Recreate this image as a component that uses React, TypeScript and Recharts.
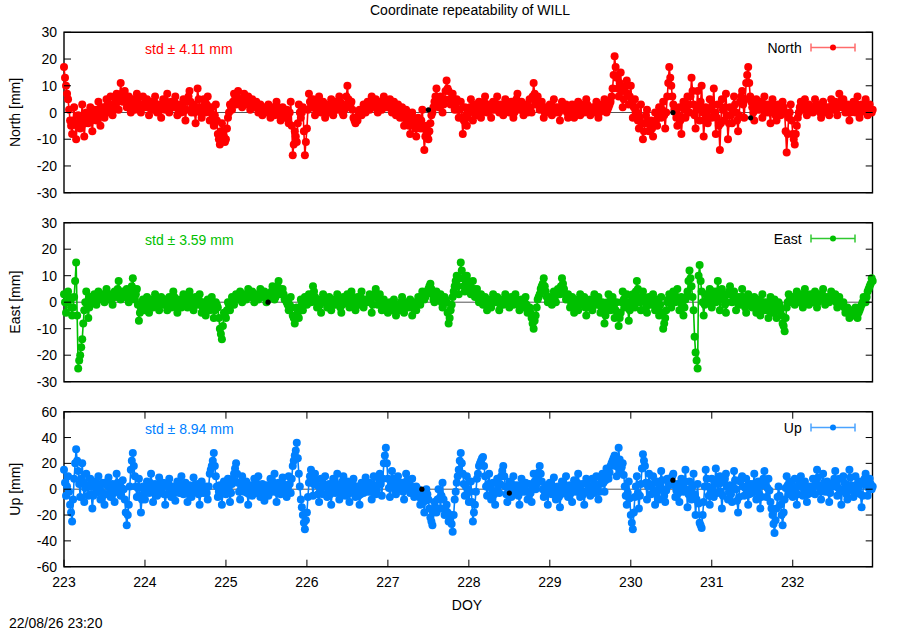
import React from 'react';
import {
  ComposedChart, Line, XAxis, YAxis, ReferenceLine, ReferenceArea, Legend,
} from 'recharts';

// samples every 0.025 day starting DOY 223.000; the *Mid arrays hold the samples in between
const DOY_START = 223;
const DOY_STEP = 0.025;
const DOY_MAX = 232.985;
const doyTicks = [223, 224, 225, 226, 227, 228, 229, 230, 231, 232];
const neTicks = [-30, -20, -10, 0, 10, 20, 30];
const upTicks = [-60, -40, -20, 0, 20, 40, 60];

const northMm = [
  17, 10, 5, -3, -8, 2, -10, -1, -6, 3, // 223.00
  -9, 0, -4, 2, -7, 1, -3, 4, -5, 2,
  -2, 5, 0, 6, -1, 3, 7, 1, 11, 4,
  8, 2, 6, 0, 5, 1, 7, 3, 0, 6,
  2, 5, -1, 4, 1, 6, 0, 3, -2, 5, // 224.00
  1, 7, 0, 4, 2, 6, -1, 3, 0, 5,
  -3, 4, 8, 0, 3, -4, 9, 2, -2, 5,
  0, 6, -3, 2, -5, 3, -8, -12, -4, -9,
  -10, -2, 3, 1, 7, 3, 8, 4, 2, 7, // 225.00
  3, 6, 1, 5, 2, 4, 0, 3, -1, 2,
  0, 3, -2, 2, -1, 4, 0, -3, 2, -2,
  1, -4, 4, -16, -7, -11, 3, -2, 2, -16,
  -6, 7, 2, 5, -1, 3, 6, 0, 4, -2, // 226.00
  3, 0, 5, -1, 4, 1, 6, 2, -1, 3,
  10, 2, 4, -2, -4, -3, 1, -1, 3, 0,
  4, 1, 6, 2, 5, 0, 4, 1, 6, 3,
  2, 5, 0, 4, -1, 3, -2, 2, -5, 1, // 227.00
  -3, -8, 0, -4, -9, -2, -6, 1, -14, -5,
  -10, -4, 0, 4, 9, 2, 6, 0, 5, 12,
  8, 3, 7, 1, 5, -2, 4, -8, 2, -5,
  0, 5, -3, 3, -1, 4, -2, 2, 6, 0, // 228.00
  3, -2, 4, 1, 6, 0, 3, -1, 5, 2,
  0, 4, -2, 3, 7, 1, 4, -1, 3, 0,
  5, 0, 11, 3, 6, 1, 4, -2, 2, 0,
  3, -1, 5, 0, 2, -3, 4, 1, 3, -2, // 229.00
  0, 3, -2, 2, 4, -1, 3, 0, 5, 1,
  -1, 2, 0, 4, -2, 3, 1, 5, 0, 2,
  4, 9, 21, 13, 6, 15, 2, 8, 12, 3,
  10, -2, 5, 0, -6, 3, -10, -4, 1, -7, // 230.00
  -3, -9, 0, -5, 2, -2, 4, -6, 6, 17,
  10, 3, 0, -5, 2, -8, 4, -2, 6, 0,
  13, 3, -6, 8, -3, 10, -9, 2, -4, 5,
  -2, 9, -8, 3, -14, 5, -3, 7, -10, 2, // 231.00
  -4, 6, 0, -7, 4, 8, -2, 11, 17, 6,
  2, -3, 5, 1, 4, -2, 6, 0, 3, -4,
  5, 1, -3, 3, -1, 4, 0, -15, -2, 3,
  -8, -12, -5, 0, 4, 1, 5, -1, 3, 2, // 232.00
  0, 5, 1, 3, -2, 4, 0, 2, -1, 5,
  1, 4, -1, 7, 2, 5, 0, 3, -3, 2,
  4, 0, 6, -2, 3, 1, 5, -1, 3, 0,
];
const northMmMid = [
  13, 7, 1, -5, -3, -4, -5, -4, -2, -3, // 223.00
  -4, -2, -1, -3, -2, -1, 1, -1, -1, 0,
  2, 3, 3, 2, 1, 5, 4, 6, 7, 5,
  5, 4, 3, 3, 3, 4, 5, 2, 3, 3,
  4, 2, 2, 2, 4, 3, 2, 1, 2, 3, // 224.00
  4, 3, 2, 3, 4, 2, 1, 2, 3, 1,
  1, 6, 4, 2, 0, 2, 5, 0, 2, 3,
  3, 2, 0, -2, -1, -3, -10, -7, -7, -11,
  -6, 0, 2, 4, 5, 6, 5, 3, 5, 5, // 225.00
  4, 3, 3, 4, 3, 2, 2, 1, 1, 1,
  1, 0, 0, 1, 2, 2, -1, 0, 0, -1,
  -2, 0, -5, -12, -9, -4, 0, 0, -7, -11,
  1, 4, 3, 2, 1, 4, 3, 2, 1, 1, // 226.00
  1, 3, 2, 2, 2, 3, 4, 0, 1, 6,
  5, 3, 1, -3, -3, -1, 0, 1, 2, 2,
  2, 4, 4, 3, 2, 2, 3, 4, 4, 2,
  3, 2, 2, 1, 1, 0, 0, -2, -2, -1, // 227.00
  -5, -4, -2, -6, -5, -4, -3, -6, -9, -8,
  -7, -1, 2, 6, 5, 4, 3, 3, 8, 9,
  5, 5, 4, 3, 1, 1, -2, -3, -1, -2,
  2, 1, 0, 1, 2, 1, 0, 4, 3, 1, // 228.00
  1, 1, 2, 3, 3, 2, 1, 2, 3, 1,
  2, 1, 0, 5, 4, 2, 2, 1, 2, 2,
  2, 6, 7, 4, 3, 3, 1, 0, 1, 2,
  1, 2, 2, 1, 0, 1, 2, 2, 0, 0, // 229.00
  1, 0, 0, 3, 1, 1, 2, 2, 3, 0,
  0, 1, 2, 1, 0, 2, 3, 2, 1, 3,
  6, 14, 17, 9, 11, 8, 5, 10, 7, 6,
  4, 2, 2, -3, -2, -4, -7, -1, -3, -5, // 230.00
  -6, -4, -3, -1, 0, 1, -1, 0, 11, 13,
  6, 1, -2, -1, -3, -2, 1, 2, 3, 6,
  8, -1, 1, 2, 4, 0, -3, -1, 1, 1,
  3, 0, -2, -5, -4, 1, 2, -1, -4, -1, // 231.00
  1, 3, -3, -1, 6, 3, 5, 14, 11, 4,
  0, 1, 3, 2, 1, 2, 3, 1, 0, 1,
  3, -1, 0, 1, 2, 2, -7, -8, 0, -3,
  -10, -8, -2, 2, 2, 3, 2, 1, 2, 1, // 232.00
  2, 3, 2, 0, 1, 2, 1, 0, 2, 3,
  2, 1, 3, 4, 3, 2, 1, 0, 0, 3,
  2, 3, 2, 0, 2, 3, 2, 1, 1, 1,
];

const eastMm = [
  3, -4, 4, 1, -5, 2, 15, -25, -20, -14, // 223.00
  -3, 4, -6, 2, 0, 3, -1, 4, 1, 3,
  0, 5, 1, 3, -1, 4, 2, 8, 1, 4,
  2, 5, 0, 3, 9, 1, 5, -7, -2, 1,
  -3, 2, -4, 1, -2, 3, 0, -3, 2, -1, // 224.00
  1, -3, 2, -2, 4, 0, -4, 1, -2, 3,
  0, -2, 4, 1, -3, 2, -1, 3, -4, 0,
  -5, 1, -3, 2, -6, 0, -2, -10, -14, -4,
  -6, 0, -3, 2, -1, 3, 1, 4, 0, 3, // 225.00
  1, 5, 2, 4, 0, 3, 1, 5, 2, 4,
  0, 3, 2, 6, 1, 4, 8, 3, 5, 1,
  0, -3, 2, -5, -8, -2, -6, 1, -3, 2,
  -1, 3, 0, 6, 2, -2, 1, -4, 3, 0, // 226.00
  -2, 2, -3, 1, -1, 3, 0, -4, 2, 0,
  3, -2, 4, 0, -3, 2, -1, 4, -2, 1,
  0, 3, -4, 2, 5, -1, 3, -3, 1, -2,
  -4, 0, -3, 1, -5, -1, -3, 2, -4, 0, // 227.00
  -2, 1, -5, 0, -3, 2, -1, 4, 1, 3,
  5, 7, 3, 0, 4, 1, 3, -2, 2, 0,
  -8, -3, 2, 6, 10, 3, 15, 9, 4, 10,
  7, 3, 8, 2, 5, 0, 3, -1, 2, -3, // 228.00
  1, -2, 3, 0, 2, -3, 1, -1, 3, 0,
  -2, 2, -1, 3, 0, -3, 1, -2, 2, -4,
  -2, -6, -10, -5, 1, 3, 6, 9, 4, 0,
  2, -1, 4, 0, 5, 3, 9, 5, 1, 3, // 229.00
  -2, 2, -4, 1, -3, 3, -1, 2, -5, 0,
  1, -3, 3, -1, 2, -4, 0, -8, -2, 3,
  -3, 2, -6, 0, -9, -4, 4, -2, 3, -7,
  0, 3, -2, 8, 2, -3, 4, 0, -4, 2, // 230.00
  -1, 3, -3, 1, -5, 2, -10, -6, 0, 3,
  -2, 4, 0, 5, -3, 2, -5, 1, 4, 12,
  6, -3, -19, -25, 14, 4, -5, 3, 0, 5,
  -2, 4, 0, 8, -3, 5, 1, -4, 3, 6, // 231.00
  0, 4, -3, 2, -1, 5, 0, -4, 3, 1,
  -2, 2, -4, 1, -5, 3, -3, 0, -6, 2,
  -4, 1, -6, 0, -3, -8, -11, -2, 3, 0,
  2, -1, 4, 0, 3, -2, 5, 1, -1, 3, // 232.00
  0, 4, -2, 3, 1, 5, -1, 2, 0, 4,
  1, 3, -2, 2, -1, 0, -4, -2, -6, -3,
  -5, -2, -6, -3, -1, 2, 0, 4, 6, 9,
];
const eastMmMid = [
  0, 0, 2, -2, -2, 8, -5, -22, -17, -8, // 223.00
  0, -1, -2, 1, 2, 1, 2, 2, 2, 1,
  2, 3, 2, 1, 2, 3, 5, 4, 2, 3,
  3, 2, 2, 6, 5, 3, -1, -4, 0, -1,
  0, -1, -1, 0, 1, 1, -1, 0, 0, 0, // 224.00
  -1, 0, 0, 1, 2, -2, -1, 0, 1, 1,
  -1, 1, 2, -1, 0, 0, 1, 0, -2, -2,
  -2, -1, -1, -2, -3, -1, -6, -12, -9, -5,
  -3, -1, -1, 0, 1, 2, 2, 2, 1, 2, // 225.00
  3, 3, 3, 2, 1, 2, 3, 3, 3, 2,
  1, 2, 4, 3, 2, 6, 5, 4, 3, 1,
  -1, -1, -2, -6, -5, -4, -3, -1, 0, 0,
  1, 1, 3, 4, 0, 0, -1, 0, 1, 1, // 226.00
  0, 0, -1, 0, 1, 1, -2, -1, 1, 1,
  0, 1, 2, -1, 0, 0, 2, 1, 0, 0,
  1, 0, -1, 3, 2, 1, 0, -1, 0, -3,
  -2, -2, -1, -2, -3, -2, 0, -1, -2, -1, // 227.00
  -1, -2, -2, -1, 0, 0, 2, 2, 2, 4,
  6, 5, 1, 2, 2, 2, 0, 0, 1, -4,
  -6, -1, 4, 8, 6, 9, 12, 6, 7, 8,
  5, 5, 5, 4, 2, 2, 1, 1, 0, -1, // 228.00
  0, 1, 1, 1, 0, -1, 0, 1, 1, -1,
  0, 0, 1, 1, -1, -1, 0, 0, -1, -3,
  -4, -8, -7, -2, 2, 5, 7, 6, 2, 1,
  1, 2, 2, 3, 4, 6, 7, 3, 2, 1, // 229.00
  0, -1, -1, -1, 0, 1, 0, -2, -2, -1,
  -1, 0, 1, 0, -1, -2, -4, -5, 0, 0,
  -1, -2, -3, -5, -6, 0, 1, 0, -2, -3,
  2, 0, 4, 5, 0, 1, 2, -2, -1, 0, // 230.00
  1, 0, -1, -2, -1, -4, -8, -3, 1, 0,
  1, 2, 2, 1, 0, -1, -2, 2, 8, 9,
  2, -13, -22, 10, 8, 0, -1, 1, 2, 1,
  1, 2, 4, 3, 1, 3, -1, 0, 4, 3, // 231.00
  2, 1, 0, 1, 2, 2, -2, 0, 2, 0,
  0, -1, -1, -2, -1, 0, -1, -3, -2, -1,
  -2, -3, -3, -1, -5, -9, -6, 0, 1, 1,
  0, 2, 2, 1, 0, 2, 3, 0, 1, 1, // 232.00
  2, 1, 0, 2, 3, 2, 0, 1, 2, 2,
  2, 0, 0, 0, -1, -2, -3, -4, -5, -4,
  -3, -4, -4, -2, 0, 1, 2, 5, 7, 8,
];

const upMm = [
  15, -5, 10, -12, -25, 8, 31, 14, -6, 20, // 223.00
  -10, 12, -5, 8, -15, 6, -3, 10, -8, 5,
  -12, 3, 9, -6, 4, -10, 12, 0, -5, 7,
  -8, -28, -12, 15, 28, 10, -6, 8, -18, 2,
  -8, 6, -3, 12, -10, 4, -5, 9, -2, 5, // 224.00
  -12, 3, 8, -6, 2, -9, 6, -3, 10, -4,
  5, -10, 3, -6, 9, -2, 4, -12, 6, -3,
  2, -8, 12, 18, 28, 10, -6, 3, -12, 6,
  -4, 8, -10, 4, 12, 20, 5, -8, 10, -2, // 225.00
  6, -12, 3, -5, 8, -3, 10, -6, 4, -9,
  3, -5, 8, -2, 12, -10, 5, -4, 9, 0,
  -6, 10, -3, 18, 26, 36, 12, -8, -20, -31,
  -18, 5, 15, -5, 12, 3, -10, 8, -4, 10, // 226.00
  -6, 4, -12, 8, -3, 12, -8, 2, 10, -5,
  6, -10, 3, 8, -6, 2, -12, 5, -3, 9,
  -2, 5, -8, 10, -4, 3, 12, -5, 20, 32,
  8, -6, 14, 2, -4, 10, 0, 5, -8, 12, // 227.00
  3, -3, 8, -6, 2, 0, -12, -4, -18, 0,
  -8, -22, -28, -10, -18, 0, -15, 5, -20, -12,
  -25, -20, -33, -8, 5, 15, 28, 12, -5, 10,
  -10, 6, -25, -12, 8, 18, 22, 25, 10, -5, // 228.00
  12, -8, 5, -12, 8, -3, 10, 18, 2, -10,
  6, -6, 10, -4, 3, -12, 8, -2, 5, -8,
  4, -10, 12, 0, 8, 18, 6, -6, 3, -12,
  5, -4, 9, -8, 2, -14, 6, -3, 10, -6, // 229.00
  3, -10, 7, -2, 12, -6, 4, -12, 8, 0,
  -5, 8, -3, 10, -8, 4, 12, -2, 16, 8,
  18, 22, 26, 10, 32, 14, 20, 2, -12, 6,
  -20, -31, -6, 10, -15, 4, 27, 18, -8, 12, // 230.00
  -4, 10, -12, 6, -8, 14, 0, -10, 8, 3,
  7, 12, -6, 4, -10, 8, -2, 15, -14, 6,
  -8, 12, -20, 4, -26, -30, -10, 15, 2, -12,
  8, -6, 16, -3, 10, -15, 5, 12, -8, 3, // 231.00
  -10, 14, 0, -18, 6, 10, -5, 8, -12, 4,
  -3, 12, -8, 6, -15, 3, 14, -6, 8, -10,
  -20, -34, -15, 2, -12, -28, -8, 10, -4, 6,
  -6, 8, -12, 3, 10, -5, 6, -10, 2, -3, // 232.00
  8, -4, 15, 3, -8, 12, -2, 6, -10, 4,
  2, 14, -5, 8, -12, 10, 0, -8, 15, 3,
  -6, 10, -3, 6, -14, 4, 12, -5, 8, 0,
];
const upMmMid = [
  5, 2, -2, -18, -8, 20, 22, 4, 8, 5, // 223.00
  1, 3, 2, -4, -5, 1, 4, 1, -2, -4,
  -4, 6, 1, -1, -3, 2, 5, -3, 1, 0,
  -18, -20, 2, 22, 18, 2, 1, -5, -8, -3,
  -1, 2, 5, 1, -3, 0, 2, 3, 1, -4, // 224.00
  -4, 5, 1, -2, -3, -1, 2, 4, 3, 0,
  -2, -3, -1, 2, 3, 1, -4, -3, 1, 0,
  -3, 2, 15, 22, 18, 2, -2, -4, -3, 1,
  2, -1, -3, 8, 16, 12, -2, 1, 4, 2, // 225.00
  -3, -4, -1, 2, 2, 4, 2, -1, -2, -2,
  -1, 2, 3, 5, 1, -3, 1, 2, 4, -3,
  2, 4, 8, 22, 30, 24, 2, -14, -26, -24,
  -6, 10, 5, 4, 7, -4, -1, 2, 3, 2, // 226.00
  -1, -4, -2, 2, 4, 2, -3, 6, 2, 0,
  -2, -3, 5, 1, -2, -5, -4, 1, 3, 3,
  1, -2, 1, 3, -1, 8, 4, 8, 26, 20,
  1, 4, 8, -1, 3, 5, 2, -2, 2, 7, // 227.00
  0, 2, 1, -2, -3, -6, -8, -10, -9, -4,
  -15, -25, -18, -14, -8, -7, -5, -8, -16, -18,
  -22, -27, -20, -2, 10, 22, 20, 4, 2, 0,
  -2, -10, -18, -2, 12, 20, 24, 18, 2, 4, // 228.00
  2, -1, -4, -2, 2, 4, 14, 10, -4, -2,
  0, 2, 3, -1, -5, -2, 3, 1, -2, -2,
  -3, 1, 6, 4, 13, 12, 0, -2, -4, -3,
  0, 2, 1, -3, -6, -4, 1, 3, 2, -1, // 229.00
  -3, -1, 3, 5, 3, -1, -4, -2, 4, -2,
  2, 2, 4, 1, -2, 8, 5, 7, 12, 13,
  20, 24, 18, 21, 23, 17, 11, -5, -3, -7,
  -26, -18, 2, -3, -5, 16, 22, 5, 2, 4, // 230.00
  3, -1, -3, -1, 3, 7, -5, -1, 5, 5,
  10, 3, -1, -3, -1, 3, 6, 0, -4, -1,
  2, -4, -8, -11, -28, -20, 2, 8, -5, -2,
  1, 5, 6, 4, -2, -5, 8, 2, -2, -4, // 231.00
  2, 7, -9, -6, 8, 2, 1, -2, -4, 0,
  4, 2, -1, -4, -6, 8, 4, 1, -1, -15,
  -27, -24, -6, -5, -20, -18, 1, 3, 1, 0,
  1, -2, -4, 6, 2, 0, -2, -4, 0, 2, // 232.00
  2, 5, 9, -2, 2, 5, 2, -2, -3, 2,
  8, 4, 1, -2, -1, 5, -4, 3, 9, -1,
  2, 3, 1, -4, -5, 8, 3, 1, 4, 2,
];

// black marker points
const northMarks = [{ doy: 227.5, v: 1 }, { doy: 230.52, v: 0 }, { doy: 231.48, v: -2 }];
const eastMarks = [{ doy: 225.52, v: 0 }];
const upMarks = [{ doy: 227.42, v: 0 }, { doy: 228.5, v: -3 }, { doy: 230.52, v: 7 }];

const FONT = '"Liberation Sans", Arial, Helvetica, sans-serif';
const PLOT_LEFT = 64;
const PLOT_RIGHT = 872.7;
const PLOT_W = PLOT_RIGHT - PLOT_LEFT;

const panels = [
  { name: 'North', label: 'North [mm]', color: '#ff0000', legendColor: '#ff6b6b', std: 'std \u00b1 4.11 mm',
    values: northMm, mid: northMmMid, marks: northMarks, ticks: neTicks, top: 32.3, bottom: 192.7 },
  { name: 'East', label: 'East [mm]', color: '#00c000', legendColor: '#30c830', std: 'std \u00b1 3.59 mm',
    values: eastMm, mid: eastMmMid, marks: eastMarks, ticks: neTicks, top: 222.7, bottom: 381.7 },
  { name: 'Up', label: 'Up [mm]', color: '#0080ff', legendColor: '#4aa3ff', std: 'std \u00b1 8.94 mm',
    values: upMm, mid: upMmMid, marks: upMarks, ticks: upTicks, top: 411.7, bottom: 566.7 },
];

const toRows = (vals: number[], mid: number[]) => {
  const rows: { doy: number; v: number }[] = [];
  vals.forEach((v, i) => {
    const t = DOY_START + i * DOY_STEP;
    rows.push({ doy: t, v });
    rows.push({ doy: t + DOY_STEP / 2, v: mid[i] });
  });
  return rows;
};

const YTick = (props: any) => {
  const { x, y, payload } = props;
  return (
    <g>
      <line x1={x} x2={x + 7} y1={y} y2={y} stroke="#000" />
      <line x1={x + PLOT_W - 7} x2={x + PLOT_W} y1={y} y2={y} stroke="#000" />
      <text x={x - 7} y={y} dy="0.36em" textAnchor="end" fontSize={14} fill="#000">{payload.value}</text>
    </g>
  );
};

const makeXTick = (plotH: number) => (props: any) => {
  const { x, y, payload } = props;
  return (
    <g>
      <line x1={x} x2={x} y1={y - 7} y2={y} stroke="#000" />
      <line x1={x} x2={x} y1={y - plotH} y2={y - plotH + 7} stroke="#000" />
      <text x={x} y={y + 20} textAnchor="middle" fontSize={14} fill="#000">{payload.value}</text>
    </g>
  );
};

const PanelLegend = ({ p }: { p: any }) => (
  <svg width={PLOT_W} height={30} style={{ display: 'block', fontFamily: FONT }}>
    <text x={81} y={17} dy="0.36em" fontSize={14} fill={p.color}>{p.std}</text>
    <text x={737.7} y={15.5} dy="0.36em" textAnchor="end" fontSize={14} fill="#000">{p.name}</text>
    <line x1={747} x2={791} y1={15.5} y2={15.5} stroke={p.legendColor} strokeWidth={1.5} />
    <line x1={747} x2={747} y1={11.5} y2={19.5} stroke={p.legendColor} strokeWidth={1.5} />
    <line x1={791} x2={791} y1={11.5} y2={19.5} stroke={p.legendColor} strokeWidth={1.5} />
    <circle cx={769} cy={15.5} r={3} fill={p.color} />
  </svg>
);

const Panel = ({ p, last }: { p: any; last: boolean }) => {
  const rows = toRows(p.values, p.mid);
  const plotH = p.bottom - p.top;
  const xAxisH = 24;
  const yMin = p.ticks[0];
  const yMax = p.ticks[p.ticks.length - 1];
  return (
    <div style={{ position: 'absolute', left: 0, top: 0 }}>
      <ComposedChart
        width={900}
        height={630}
        data={rows}
        margin={{ top: p.top, right: 900 - PLOT_RIGHT, left: 0, bottom: 630 - p.bottom - (last ? xAxisH : 0) }}
      >
        <XAxis
          dataKey="doy"
          type="number"
          domain={[DOY_START, DOY_MAX]}
          ticks={doyTicks}
          interval={0}
          hide={!last}
          height={xAxisH}
          axisLine={false}
          tickLine={false}
          tickSize={0}
          tickMargin={0}
          tick={makeXTick(plotH)}
        />
        <YAxis
          type="number"
          domain={[yMin, yMax]}
          ticks={p.ticks}
          interval={0}
          width={PLOT_LEFT}
          axisLine={false}
          tickLine={false}
          tickSize={0}
          tickMargin={0}
          tick={YTick}
        />
        <ReferenceLine y={0} stroke="#555" strokeWidth={1} />
        <Line
          dataKey="v"
          type="linear"
          stroke={p.color}
          strokeWidth={1.6}
          dot={{ r: 4, fill: p.color, stroke: 'none' }}
          activeDot={false}
          isAnimationActive={false}
        />
        <Line
          data={p.marks}
          dataKey="v"
          stroke="none"
          dot={{ r: 2.6, fill: '#000', stroke: 'none' }}
          activeDot={false}
          isAnimationActive={false}
        />
        <ReferenceArea
          x1={DOY_START}
          x2={DOY_MAX}
          y1={yMin}
          y2={yMax}
          fill="none"
          stroke="#000"
          strokeWidth={1.4}
          ifOverflow="visible"
        />
        <Legend
          layout="vertical"
          align="center"
          verticalAlign="middle"
          wrapperStyle={{ left: PLOT_LEFT, top: p.top, width: PLOT_W, height: 30 }}
          content={() => <PanelLegend p={p} />}
        />
      </ComposedChart>
    </div>
  );
};

export default function App() {
  return (
    <div style={{ position: 'absolute', left: 0, top: 0, width: 900, height: 630, background: '#fff', fontFamily: FONT }}>
      {panels.map((p, i) => (
        <Panel key={p.name} p={p} last={i === panels.length - 1} />
      ))}
      <svg width={900} height={630} style={{ position: 'absolute', left: 0, top: 0, pointerEvents: 'none', fontFamily: FONT }}>
        <text x={470} y={15} textAnchor="middle" fontSize={14} fill="#000">Coordinate repeatability of WILL</text>
        {panels.map((p) => {
          const cy = (p.top + p.bottom) / 2;
          return (
            <text key={p.name} x={15} y={cy} dy="0.36em" textAnchor="middle" fontSize={14} fill="#000"
              transform={`rotate(-90 15 ${cy})`}>{p.label}</text>
          );
        })}
        <text x={467} y={610} textAnchor="middle" fontSize={14} fill="#000">DOY</text>
        <text x={9} y={628} fontSize={14} fill="#000">22/08/26 23:20</text>
      </svg>
    </div>
  );
}
